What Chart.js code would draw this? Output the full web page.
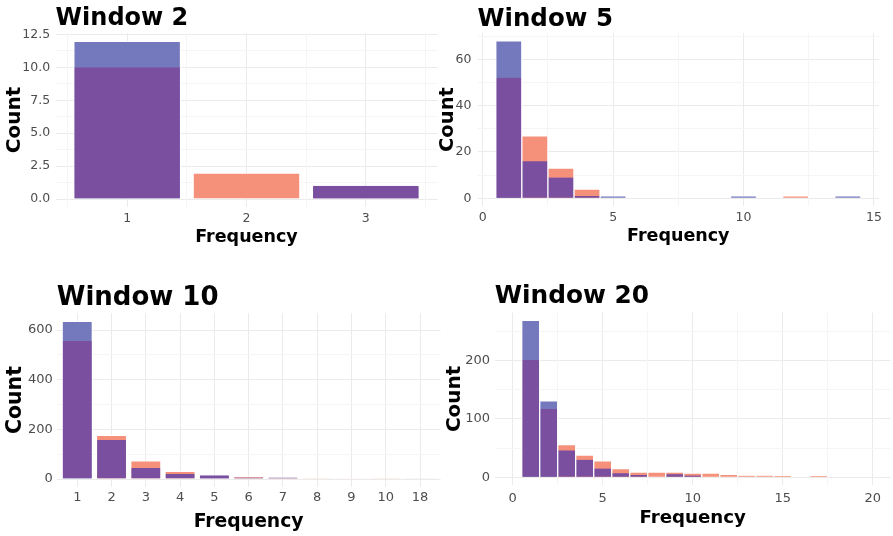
<!DOCTYPE html>
<html>
<head>
<meta charset="utf-8">
<script src="https://cdn.jsdelivr.net/npm/chart.js@4.4.1/dist/chart.umd.min.js"></script>
<style>
  html, body { margin: 0; padding: 0; background: #fff; }
  body { position: relative; width: 893px; height: 536px; overflow: hidden; }
  canvas { position: absolute; }
</style>
</head>
<body>
<canvas id="w2"  width="446" height="262" style="left:0px;top:0px"></canvas>
<canvas id="w5"  width="457" height="262" style="left:436px;top:0px"></canvas>
<canvas id="w10" width="446" height="268" style="left:0px;top:268px"></canvas>
<canvas id="w20" width="457" height="268" style="left:436px;top:268px"></canvas>
<script>
// ---- data: frequency bins and counts of the two groups, per window ----
const w2Freq    = [1, 2, 3];
const w2GroupA  = [10, 2, 1];
const w2GroupB  = [12, 0, 1];

const w5Freq    = [1, 2, 3, 4, 5, 10, 12, 14];
const w5GroupA  = [52, 27, 13, 4, 0, 0, 1, 0];
const w5GroupB  = [68, 16, 9, 1, 1, 1, 0, 1];

const w10Freq   = ['1', '2', '3', '4', '5', '6', '7', '8', '9', '10', '18'];
const w10GroupA = [556, 177, 75, 32, 15, 11, 7, 4, 1, 4, 0];
const w10GroupB = [636, 157, 44, 20, 15, 6, 6, 0, 0, 0, 1];

const w20Freq   = [1, 2, 3, 4, 5, 6, 7, 8, 9, 10, 11, 12, 13, 14, 15, 16, 17];
const w20GroupA = [201, 117, 56, 38, 28, 15, 9, 9, 9, 7, 7, 5, 3, 3, 2, 0, 2];
const w20GroupB = [269, 131, 46, 30, 15, 7, 4, 1, 5, 3, 0, 0, 0, 0, 0, 0, 0];

// ---- styling ----
const COLOR_A = '#F5917B';
const COLOR_B = '#7479BE';
const COLOR_BOTH = '#7A4F9F';
const GRID_MAJOR = '#EBEBEB';
const GRID_MINOR = '#F5F5F5';
const FONT = "'DejaVu Sans', 'Liberation Sans', sans-serif";

// values k*step + offset that fall inside [min, max]
function ticksEvery(step, min, max, offset) {
  const out = [];
  for (let k = Math.ceil((min - offset) / step - 1e-9); k * step + offset <= max + 1e-9; k++) {
    out.push(+(k * step + offset).toFixed(6));
  }
  return out;
}

// Two overlapping bar layers: the taller count in its group colour,
// and the shared part (the smaller count) in the overlap colour on top.
function layers(pos, a, b, pct) {
  const tall = pos.map((x, i) => ({ x, y: Math.max(a[i], b[i]) > 0 ? Math.max(a[i], b[i]) : null }));
  const tallColors = pos.map((x, i) => a[i] > b[i] ? COLOR_A : (b[i] > a[i] ? COLOR_B : COLOR_BOTH));
  const shared = pos.map((x, i) => ({ x, y: Math.min(a[i], b[i]) > 0 ? Math.min(a[i], b[i]) : null }));
  const common = { grouped: false, categoryPercentage: 1, barPercentage: pct, borderColor: '#ffffff' };
  return [
    Object.assign({ label: 'total', data: tall, backgroundColor: tallColors, borderWidth: 1, order: 1 }, common),
    Object.assign({ label: 'shared', data: shared, backgroundColor: COLOR_BOTH,
                    borderWidth: { left: 1, right: 1, top: 0, bottom: 0 }, order: 0 }, common)
  ];
}

function panel(cfg) {
  const maxCount = Math.max(...cfg.a, ...cfg.b);
  const yMin = -0.05 * maxCount, yMax = 1.05 * maxCount;
  const L = cfg.layout, F = cfg.fonts;
  const scales = {
    x: {
      type: 'linear', position: 'bottom', min: cfg.xMin, max: cfg.xMax, offset: false,
      afterBuildTicks: s => { s.ticks = ticksEvery(cfg.xStep, cfg.xMin, cfg.xMax, 0).map(v => ({ value: v })); },
      afterFit: s => { s.height = L.xH; },
      ticks: {
        autoSkip: false, maxRotation: 0, padding: L.xTickPad, color: '#4D4D4D',
        font: { family: FONT, size: F.tick },
        callback: v => cfg.xLabels ? cfg.xLabels[Math.round(v) - 1] : String(v)
      },
      grid: { color: GRID_MAJOR, lineWidth: 1, drawTicks: false, offset: false },
      border: { display: false },
      title: { display: true, text: 'Frequency', color: '#000',
               font: { family: FONT, size: F.xTitle, weight: 'bold', lineHeight: 1 },
               padding: { top: 0, bottom: L.xTitlePad } }
    },
    y: {
      type: 'linear', position: 'left', min: yMin, max: yMax,
      afterBuildTicks: s => { s.ticks = ticksEvery(cfg.yStep, yMin, yMax, 0).map(v => ({ value: v })); },
      afterFit: s => { s.width = L.yW; },
      ticks: { padding: L.yTickPad, color: '#4D4D4D', font: { family: FONT, size: F.tick },
               callback: v => v.toFixed(cfg.yDec) },
      grid: { color: GRID_MAJOR, lineWidth: 1, drawTicks: false },
      border: { display: false },
      title: { display: true, text: 'Count', color: '#000',
               font: { family: FONT, size: F.yTitle, weight: 'bold', lineHeight: 1 },
               padding: { top: L.yTitlePad, bottom: 0 } }
    },
    yMinor: {
      type: 'linear', position: 'left', min: yMin, max: yMax, display: true,
      afterBuildTicks: s => { s.ticks = ticksEvery(cfg.yStep, yMin, yMax, cfg.yStep / 2).map(v => ({ value: v })); },
      afterFit: s => { s.width = 0; },
      ticks: { display: false },
      grid: { color: GRID_MINOR, lineWidth: 1, drawTicks: false },
      border: { display: false }
    }
  };
  if (cfg.xMinor) {
    scales.xMinor = {
      type: 'linear', position: 'bottom', min: cfg.xMin, max: cfg.xMax, display: true, offset: false,
      afterBuildTicks: s => { s.ticks = ticksEvery(cfg.xStep, cfg.xMin, cfg.xMax, cfg.xStep / 2).map(v => ({ value: v })); },
      afterFit: s => { s.height = 0; },
      ticks: { display: false },
      grid: { color: GRID_MINOR, lineWidth: 1, drawTicks: false, offset: false },
      border: { display: false }
    };
  }
  return new Chart(document.getElementById(cfg.id), {
    type: 'bar',
    data: { datasets: layers(cfg.pos, cfg.a, cfg.b, cfg.barPct) },
    options: {
      responsive: false, animation: false, devicePixelRatio: 1,
      layout: { padding: { left: 0, top: 0, bottom: 0, right: L.padRight } },
      scales,
      plugins: {
        legend: { display: false },
        tooltip: { enabled: false },
        title: {
          display: true, text: cfg.title, align: 'start', fullSize: false, color: '#000',
          font: { family: FONT, size: F.title, weight: 'bold', lineHeight: 1 },
          padding: { top: L.titleTop, bottom: L.titleBottom }
        }
      }
    }
  });
}

panel({
  id: 'w2', title: 'Window 2', pos: w2Freq, a: w2GroupA, b: w2GroupB,
  xMin: 0.4, xMax: 3.6, xStep: 1, xMinor: true, yStep: 2.5, yDec: 1, barPct: 0.9,
  fonts: { title: 24, xTitle: 17.5, yTitle: 20, tick: 12.5 },
  layout: { yW: 55.6, xH: 55.1, padRight: 8.6, titleTop: 7, titleBottom: 2.1,
            xTickPad: 4.5, yTickPad: 5.5, xTitlePad: 16, yTitlePad: 5 }
});

panel({
  id: 'w5', title: 'Window 5', pos: w5Freq, a: w5GroupA, b: w5GroupB,
  xMin: -0.2, xMax: 15.2, xStep: 5, xMinor: true, yStep: 20, yDec: 0, barPct: 1,
  fonts: { title: 24.5, xTitle: 17.5, yTitle: 19.5, tick: 12.5 },
  layout: { yW: 41.5, xH: 55.8, padRight: 13.9, titleTop: 7, titleBottom: 1.4,
            xTickPad: 3.8, yTickPad: 6, xTitlePad: 16.5, yTitlePad: 2.5 }
});

panel({
  id: 'w10', title: 'Window 10', pos: w10Freq.map((f, i) => i + 1), xLabels: w10Freq,
  a: w10GroupA, b: w10GroupB,
  xMin: 0.4, xMax: 11.6, xStep: 1, xMinor: false, yStep: 200, yDec: 0, barPct: 0.9,
  fonts: { title: 26, xTitle: 18.8, yTitle: 20.5, tick: 13 },
  layout: { yW: 56.7, xH: 49.1, padRight: 5.4, titleTop: 17.3, titleBottom: 1.9,
            xTickPad: 2.8, yTickPad: 4, xTitlePad: 4.9, yTitlePad: 5.3 }
});

panel({
  id: 'w20', title: 'Window 20', pos: w20Freq, a: w20GroupA, b: w20GroupB,
  xMin: -1, xMax: 21, xStep: 5, xMinor: true, yStep: 100, yDec: 0, barPct: 1,
  fonts: { title: 24.8, xTitle: 18.2, yTitle: 20, tick: 13 },
  layout: { yW: 58.7, xH: 50.9, padRight: 2.3, titleTop: 16.1, titleBottom: 3.7,
            xTickPad: 5.4, yTickPad: 4.7, xTitlePad: 8.9, yTitlePad: 9 }
});
</script>
</body>
</html>
